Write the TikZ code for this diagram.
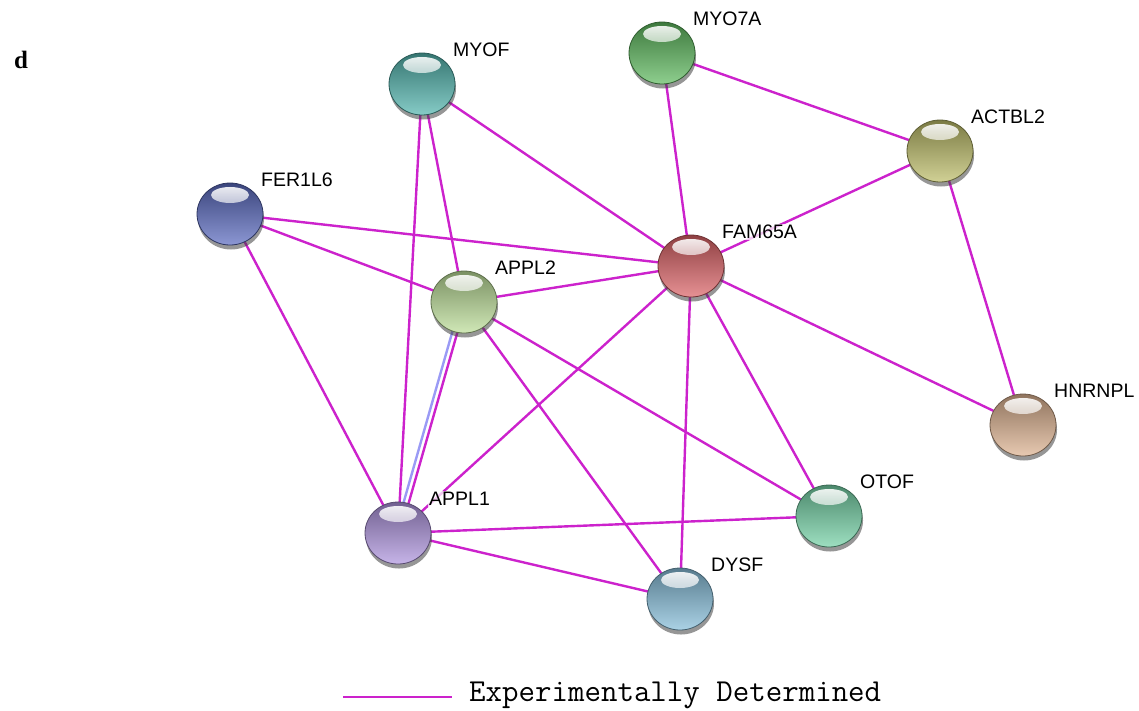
\documentclass[tikz,border=0pt]{standalone}
\usepackage{fontspec}
\setmainfont{Liberation Sans}
\newfontfamily\seriffont{Liberation Serif}
\usetikzlibrary{shapes.geometric,shadows,calc,backgrounds,fadings}
\definecolor{edgemag}{HTML}{CC22CC}
\definecolor{edgeblue}{HTML}{9A9AF5}
\definecolor{cMYOF}{HTML}{52B5AE}
\definecolor{cMYOSA}{HTML}{5EBA5E}
\definecolor{cACTBL}{HTML}{BDBD68}
\definecolor{cFER}{HTML}{5A6AC0}
\definecolor{cFAM}{HTML}{DC6266}
\definecolor{cAPPLB}{HTML}{BCDE98}
\definecolor{cHNR}{HTML}{DDB290}
\definecolor{cAPPLA}{HTML}{AE94DE}
\definecolor{cOTOF}{HTML}{74D2A6}
\definecolor{cDYSF}{HTML}{86BEDA}
\tikzset{
  ball/.style={ellipse, minimum width=66pt, minimum height=62pt, inner sep=0pt,
    top color=#1!65!black, middle color=#1, bottom color=#1!70!white,
    draw=#1!50!black, line width=0.8pt,
    drop shadow={shadow xshift=1pt, shadow yshift=-4.5pt, opacity=0.55, fill=black!75},
    path picture={
      \fill[white, path fading=south, opacity=0.95]
        ($(path picture bounding box.north)+(0,-12pt)$) ellipse [x radius=19pt, y radius=8pt];
    }},
  lab/.style={anchor=west, font=\fontsize{19.5}{21}\selectfont, fill=white, fill opacity=0.75, text opacity=1, inner sep=1pt},
  edge/.style={draw=edgemag, line width=2.4pt},
  edgeb/.style={draw=edgeblue, line width=2.4pt}
}
\begin{document}
\begin{tikzpicture}[x=1pt,y=-1pt]
\useasboundingbox (0,0) rectangle (1139,710);
\node[font=\seriffont\bfseries\fontsize{25}{27}\selectfont] (panel) at (21,60) {d};

\node[ball=cMYOF]  (MYOF)   at (422,84)  {};
\node[ball=cMYOSA] (MYO7A)  at (662,53)  {};
\node[ball=cACTBL] (ACTBL2) at (940,151) {};
\node[ball=cFER]   (FER1L6) at (230,214) {};
\node[ball=cFAM]   (FAM65A) at (691,266) {};
\node[ball=cAPPLB] (APPL2)  at (464,302) {};
\node[ball=cHNR]   (HNRNPL) at (1023,425) {};
\node[ball=cAPPLA] (APPL1)  at (398,533) {};
\node[ball=cOTOF]  (OTOF)   at (829,516) {};
\node[ball=cDYSF]  (DYSF)   at (680,599) {};

\foreach \n in {MYOF,MYO7A,ACTBL2,FER1L6,FAM65A,APPL2,HNRNPL,APPL1,OTOF,DYSF}
  \node[lab] (\n-l) at ($(\n)+(30,-34)$) {\n};

\begin{scope}[on background layer]
\foreach \a/\b in {MYOF/FAM65A, MYOF/APPL2, MYOF/APPL1, MYO7A/FAM65A, MYO7A/ACTBL2,
  ACTBL2/FAM65A, ACTBL2/HNRNPL, FER1L6/FAM65A, FER1L6/APPL2, FER1L6/APPL1,
  APPL2/FAM65A, APPL2/OTOF, APPL2/DYSF, FAM65A/APPL1, FAM65A/DYSF, FAM65A/OTOF,
  FAM65A/HNRNPL, APPL1/OTOF, APPL1/DYSF}
  \draw[edge] (\a.center) -- (\b.center);
\draw[edge]  ($(APPL2.center)!2pt!90:(APPL1.center)$) -- ($(APPL1.center)!2pt!-90:(APPL2.center)$);
\draw[edgeb] ($(APPL2.center)!3pt!-90:(APPL1.center)$) -- ($(APPL1.center)!3pt!90:(APPL2.center)$);
\end{scope}

\coordinate (legA) at (343,697);
\coordinate (legB) at (452,697);
\draw[draw=edgemag, line width=2pt] (legA) -- (legB);
\node[anchor=west, font=\ttfamily\fontsize{32}{34}\selectfont, inner sep=0pt] (legt) at (469,695) {Experimentally Determined};
\end{tikzpicture}
\end{document}
